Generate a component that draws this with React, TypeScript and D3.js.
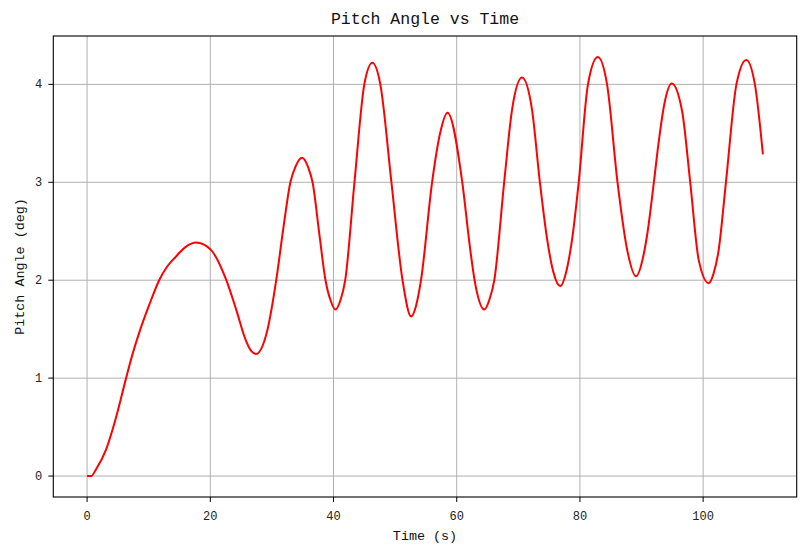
import * as d3 from "d3";

// Points: extrema plus points on the flanks (time in s, pitch in deg)
const timeS = [
  0, 0.65, 1.46, 3.08, 4.71, 6.33, 7.4, 8.49, 10.1, 11.7, 13.0, 14.4, 16.0, 17.7, 20.1, 22.6, 24.2, 25.8, 26.6, 27.4,
  29.3, 30.7, 31.9, 33.0, 33.9, 34.9, 35.9, 36.6, 37.7, 38.7, 39.6, 40.3, 41.1, 41.9, 43.4, 45.0, 46.3, 47.6, 49.4, 51.2, 52.6,
  53.4, 54.2, 56.0, 57.3, 58.5, 60.9, 62.1, 62.9, 64.5, 65.3, 66.1, 67.7, 69.0, 70.6, 72.2, 73.5, 74.6, 75.7, 76.8,
  77.9, 78.8, 79.8, 81.3, 82.9, 84.4, 86.1, 87.7, 89.1, 90.3, 91.0, 92.0, 92.8, 93.7, 94.9, 96.6, 97.9, 99.3, 100.9,
  101.7, 102.5, 103.7, 105.4, 107.0, 108.4, 109.7,
];
const pitchDeg = [
  0, 0, 0.07, 0.27, 0.6, 1.0, 1.25, 1.47, 1.75, 2.0, 2.14, 2.24, 2.34, 2.385, 2.31, 2.0, 1.7, 1.38, 1.28, 1.247,
  1.5, 2.0, 2.55, 3.0, 3.17, 3.25, 3.15, 3.0, 2.47, 2.0, 1.78, 1.7, 1.79, 2.0, 3.0, 4.0, 4.22, 4.0, 3.0, 2.0, 1.63,
  1.74, 2.0, 3.0, 3.5, 3.71, 3.0, 2.36, 2.0, 1.7, 1.8, 2.0, 3.0, 3.75, 4.07, 3.75, 3.0, 2.45, 2.08, 1.94,
  2.12, 2.45, 3.0, 4.0, 4.28, 4.0, 3.0, 2.3, 2.04, 2.25, 2.5, 3.0, 3.42, 3.8, 4.01, 3.72, 3.0, 2.2, 1.97,
  2.07, 2.3, 3.0, 4.0, 4.25, 4.0, 3.285,
];
const xTicks = [0, 20, 40, 60, 80, 100];
const yTicks = [0, 1, 2, 3, 4];

const W = 809;
const H = 555;
const M = { left: 53.3, right: 796.7, top: 36, bottom: 497 };
const FONT = "'Liberation Mono', 'DejaVu Sans Mono', monospace";

export default function App() {
  const tx = d3.extent(timeS) as [number, number];
  const py = d3.extent(pitchDeg) as [number, number];
  const padX = (tx[1] - tx[0]) * 0.05;
  const padY = (py[1] - py[0]) * 0.05;
  const x = d3.scaleLinear().domain([tx[0] - padX, tx[1] + padX]).range([M.left, M.right]);
  const y = d3.scaleLinear().domain([py[0] - padY, py[1] + padY]).range([M.bottom, M.top]);

  const pts = timeS.map((t, i) => [t, pitchDeg[i]] as [number, number]);
  const line = d3
    .line<[number, number]>()
    .x((d) => x(d[0]))
    .y((d) => y(d[1]))
    .curve(d3.curveMonotoneX);

  const cx = (M.left + M.right) / 2;
  const cy = (M.top + M.bottom) / 2;

  return (
    <svg width={W} height={H} style={{ position: "absolute", left: 0, top: 0, background: "#fff" }} fontFamily={FONT}>
      <rect width={W} height={H} fill="#fff" />
      {/* grid */}
      {xTicks.map((t) => (
        <line key={`gx${t}`} x1={x(t)} x2={x(t)} y1={M.top} y2={M.bottom} stroke="#b0b0b0" strokeWidth={1} />
      ))}
      {yTicks.map((t) => (
        <line key={`gy${t}`} x1={M.left} x2={M.right} y1={y(t)} y2={y(t)} stroke="#b0b0b0" strokeWidth={1} />
      ))}
      {/* curve */}
      <path d={line(pts) ?? ""} fill="none" stroke="#ff0000" strokeWidth={2} strokeLinejoin="round" />
      {/* spines */}
      <rect x={M.left} y={M.top} width={M.right - M.left} height={M.bottom - M.top} fill="none" stroke="#000" strokeWidth={1.1} />
      {/* x ticks */}
      {xTicks.map((t) => (
        <g key={`xt${t}`}>
          <line x1={x(t)} x2={x(t)} y1={M.bottom} y2={M.bottom + 5} stroke="#000" strokeWidth={1} />
          <text x={x(t)} y={520} textAnchor="middle" fontSize={12} fill="#222">{t}</text>
        </g>
      ))}
      {/* y ticks */}
      {yTicks.map((t) => (
        <g key={`yt${t}`}>
          <line x1={M.left - 5} x2={M.left} y1={y(t)} y2={y(t)} stroke="#000" strokeWidth={1} />
          <text x={M.left - 11} y={y(t) + 4} textAnchor="end" fontSize={12} fill="#222">{t}</text>
        </g>
      ))}
      {/* labels */}
      <text x={cx} y={24} textAnchor="middle" fontSize={16.5} fill="#111">Pitch Angle vs Time</text>
      <text x={cx} y={540} textAnchor="middle" fontSize={13.4} fill="#111">Time (s)</text>
      <text transform={`translate(24,${cy}) rotate(-90)`} textAnchor="middle" fontSize={13.4} fill="#111">Pitch Angle (deg)</text>
    </svg>
  );
}
